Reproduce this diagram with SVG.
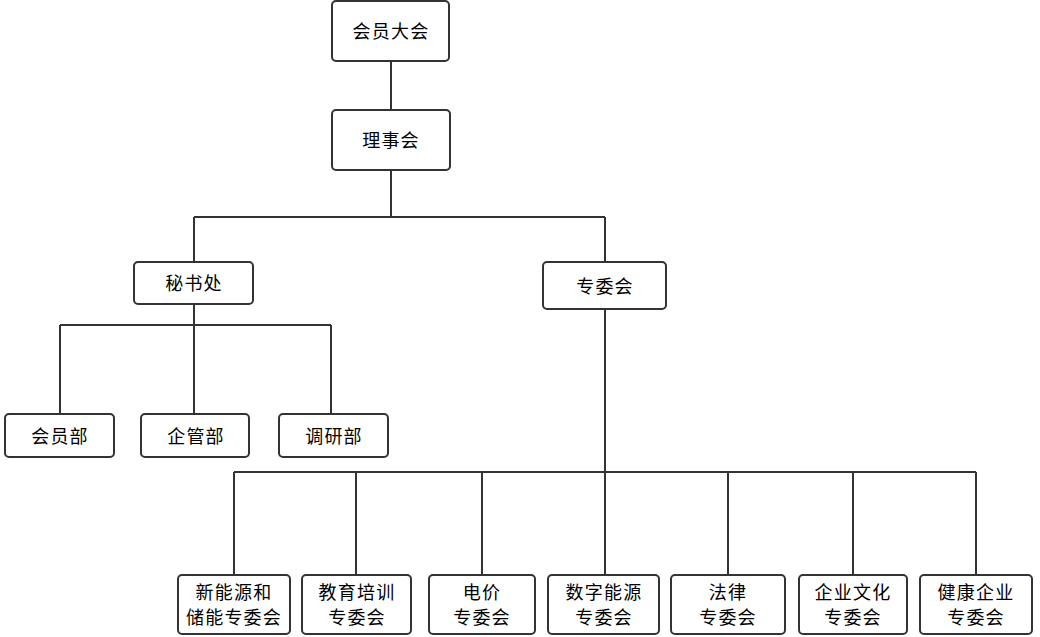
<svg xmlns="http://www.w3.org/2000/svg" width="1040" height="637" viewBox="0 0 1040 637">
<style>
.b{fill:#fff;stroke:#333;stroke-width:2}
.c{fill:none;stroke:#333;stroke-width:2}
text{font-family:"Noto Sans CJK SC","Noto Sans",sans-serif;font-size:18px;fill:#000;text-anchor:middle;letter-spacing:1.2px}
</style>
<rect width="1040" height="637" fill="#fff"/>
<g id="connectors">
<path class="c" d="M391 61V110M391 170V217M194 217H605M194 217V262M605 217V262"/>
<path class="c" d="M194 304V325M60 325H331M60 325V414M194 325V414M331 325V414"/>
<path class="c" d="M605 309V472M234 472H976M234 472V575M356 472V575M482 472V575M605 472V575M728 472V575M853 472V575M976 472V575"/>
</g>
<g id="n1"><rect class="b" x="332" y="1" width="117" height="60" rx="4"/><text x="391" y="38">会员大会</text></g>
<g id="n2"><rect class="b" x="332" y="110" width="118" height="60" rx="4"/><text x="391" y="147">理事会</text></g>
<g id="n3"><rect class="b" x="134" y="262" width="119" height="42" rx="4"/><text x="194" y="290">秘书处</text></g>
<g id="n4"><rect class="b" x="543" y="262" width="123" height="47" rx="4"/><text x="605" y="293">专委会</text></g>
<g id="n5"><rect class="b" x="5" y="414" width="109" height="43" rx="4"/><text x="60" y="443">会员部</text></g>
<g id="n6"><rect class="b" x="141" y="414" width="108" height="43" rx="4"/><text x="196" y="443">企管部</text></g>
<g id="n7"><rect class="b" x="279" y="414" width="109" height="43" rx="4"/><text x="334" y="443">调研部</text></g>
<g id="n8"><rect class="b" x="178" y="575" width="112" height="59" rx="4"/><text x="234" y="599">新能源和</text><text x="234" y="624">储能专委会</text></g>
<g id="n9"><rect class="b" x="302" y="575" width="109" height="59" rx="4"/><text x="357" y="599">教育培训</text><text x="357" y="624">专委会</text></g>
<g id="n10"><rect class="b" x="429" y="575" width="106" height="59" rx="4"/><text x="482" y="599">电价</text><text x="482" y="624">专委会</text></g>
<g id="n11"><rect class="b" x="548" y="575" width="111" height="59" rx="4"/><text x="604" y="599">数字能源</text><text x="604" y="624">专委会</text></g>
<g id="n12"><rect class="b" x="671" y="575" width="114" height="59" rx="4"/><text x="728" y="599">法律</text><text x="728" y="624">专委会</text></g>
<g id="n13"><rect class="b" x="799" y="575" width="108" height="59" rx="4"/><text x="853" y="599">企业文化</text><text x="853" y="624">专委会</text></g>
<g id="n14"><rect class="b" x="920" y="575" width="112" height="59" rx="4"/><text x="976" y="599">健康企业</text><text x="976" y="624">专委会</text></g>
</svg>
